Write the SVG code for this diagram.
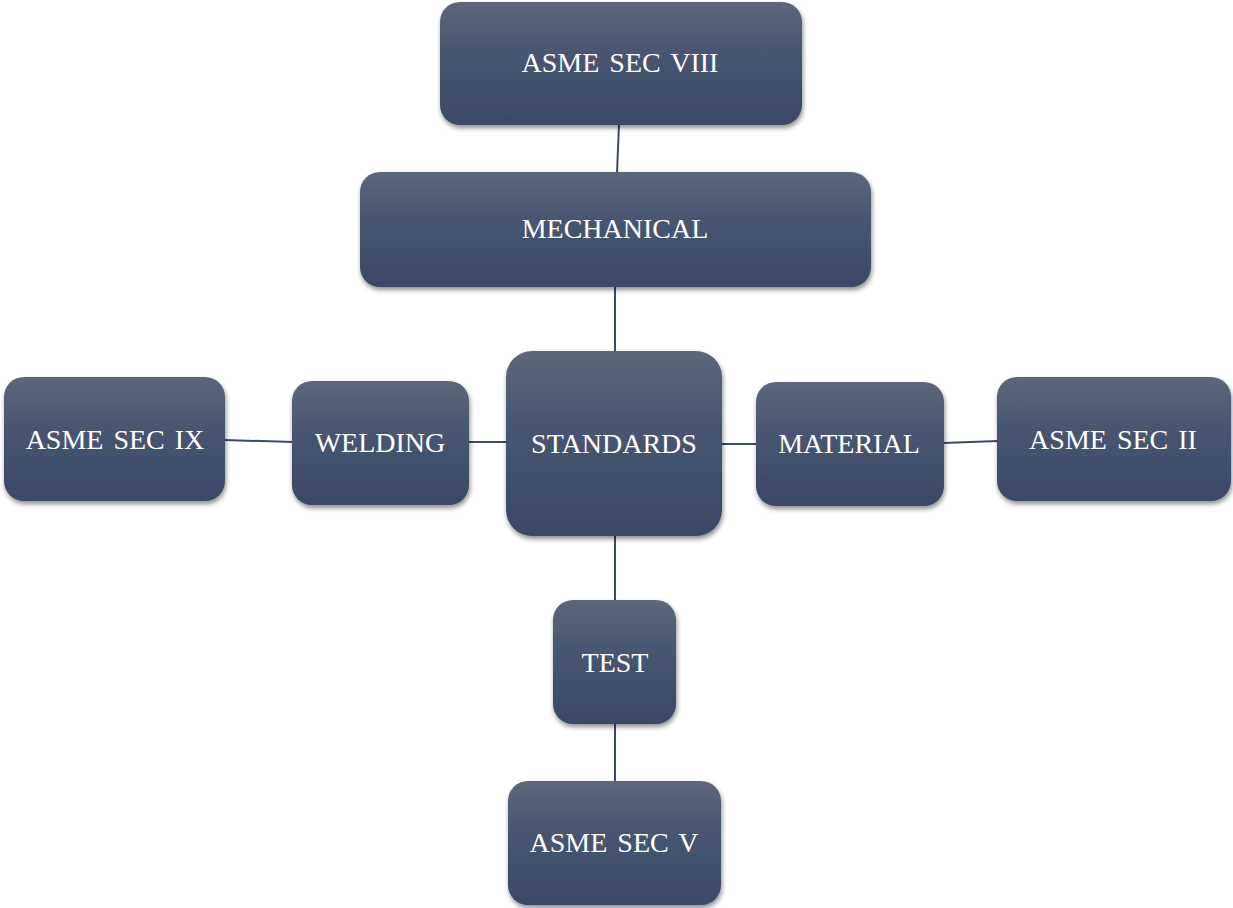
<svg xmlns="http://www.w3.org/2000/svg" width="1233" height="908" viewBox="0 0 1233 908">
<defs>
<linearGradient id="g" x1="0" y1="0" x2="0" y2="1">
<stop offset="0" stop-color="#5c6779"/>
<stop offset="0.45" stop-color="#465570"/>
<stop offset="1" stop-color="#3a4965"/>
</linearGradient>
<filter id="sh" x="-10%" y="-10%" width="120%" height="130%">
<feGaussianBlur in="SourceAlpha" stdDeviation="2.5"/>
<feOffset dx="1" dy="3" result="b"/>
<feComponentTransfer><feFuncA type="linear" slope="0.45"/></feComponentTransfer>
<feMerge><feMergeNode/><feMergeNode in="SourceGraphic"/></feMerge>
</filter>
</defs>
<style>
.box{fill:url(#g);filter:url(#sh)}
.lbl{font-family:'Liberation Serif','DejaVu Serif','Times New Roman',serif;font-size:28px;fill:#ffffff;text-anchor:middle;word-spacing:3px}
.c{stroke:#3a4965;stroke-width:2;fill:none}
</style>
<rect width="1233" height="908" fill="#ffffff"/>
<g id="connectors">
<line class="c" x1="619" y1="124" x2="617" y2="173"/>
<line class="c" x1="615" y1="286" x2="615" y2="352"/>
<line class="c" x1="224" y1="440" x2="293" y2="442"/>
<line class="c" x1="468" y1="442" x2="507" y2="442"/>
<line class="c" x1="721" y1="444" x2="757" y2="444"/>
<line class="c" x1="943" y1="443" x2="998" y2="441"/>
<line class="c" x1="615" y1="535" x2="615" y2="601"/>
<line class="c" x1="615" y1="723" x2="615" y2="782"/>
</g>
<g id="n-sec8"><rect class="box" x="440" y="2" width="362" height="123" rx="20"/><text class="lbl" font-family="Liberation Serif, serif" x="620" y="72">ASME SEC VIII</text></g>
<g id="n-mech"><rect class="box" x="360" y="172" width="511" height="115" rx="20"/><text class="lbl" font-family="Liberation Serif, serif" x="615" y="238">MECHANICAL</text></g>
<g id="n-std"><rect class="box" x="506" y="351" width="216" height="185" rx="26"/><text class="lbl" font-family="Liberation Serif, serif" x="614" y="453">STANDARDS</text></g>
<g id="n-sec9"><rect class="box" x="4" y="377" width="221" height="124" rx="20"/><text class="lbl" font-family="Liberation Serif, serif" x="115" y="449">ASME SEC IX</text></g>
<g id="n-weld"><rect class="box" x="292" y="381" width="177" height="124" rx="20"/><text class="lbl" font-family="Liberation Serif, serif" x="380" y="452">WELDING</text></g>
<g id="n-mat"><rect class="box" x="756" y="382" width="188" height="124" rx="20"/><text class="lbl" font-family="Liberation Serif, serif" x="849" y="453">MATERIAL</text></g>
<g id="n-sec2"><rect class="box" x="997" y="377" width="234" height="124" rx="20"/><text class="lbl" font-family="Liberation Serif, serif" x="1113" y="449">ASME SEC II</text></g>
<g id="n-test"><rect class="box" x="553" y="600" width="123" height="124" rx="20"/><text class="lbl" font-family="Liberation Serif, serif" x="615" y="672">TEST</text></g>
<g id="n-sec5"><rect class="box" x="508" y="781" width="213" height="124" rx="20"/><text class="lbl" font-family="Liberation Serif, serif" x="614" y="852">ASME SEC V</text></g>
</svg>
